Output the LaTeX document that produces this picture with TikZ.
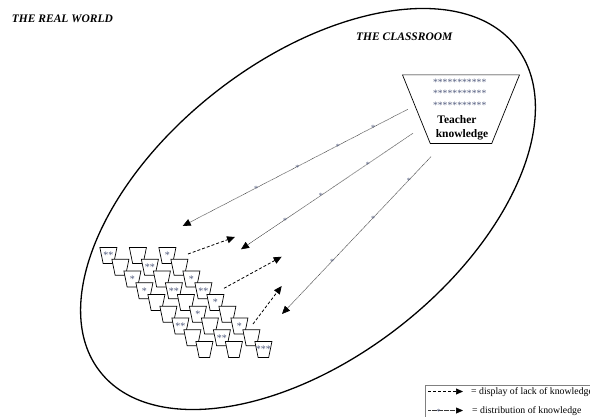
\documentclass[tikz,border=0pt]{standalone}
\usepackage{fontspec}
\setmainfont{Liberation Serif}
\usetikzlibrary{shapes.geometric,arrows.meta}
\definecolor{starcol}{RGB}{80,90,125}
\definecolor{distcol}{RGB}{55,55,55}

\begin{document}
\begin{tikzpicture}[x=1pt,y=-1pt,
  cupbox/.style={rectangle, minimum width=16.7pt, minimum height=15.7pt, inner sep=0pt},
  cupline/.style={draw, fill=white, line width=0.7pt, line join=miter},
  cupstar/.style={font=\fontsize{10}{10}\selectfont, text=starcol, inner sep=0pt},
  linestar/.style={font=\fontsize{8}{8}\selectfont, text=starcol, inner sep=0pt, yshift=-1pt},
  boxstar/.style={font=\fontsize{9.7}{9.7}\selectfont, text=starcol, inner sep=0pt, anchor=base},
  boxtext/.style={font=\fontsize{11.5}{11.5}\selectfont\bfseries, inner sep=0pt, anchor=base},
  title/.style={font=\fontsize{11.5}{11.5}\selectfont\bfseries\itshape, anchor=base west, inner sep=0pt},
  legendtext/.style={font=\fontsize{9.8}{9.8}\selectfont, anchor=base west, inner sep=0pt},
  distarrow/.style={draw=distcol, line width=0.6pt, dash pattern=on 0.6pt off 0.6pt,
    -{Triangle[length=8pt,width=7pt,color=black]}},
  lackarrow/.style={draw=black, line width=0.8pt, dash pattern=on 3pt off 2pt,
    -{Triangle[length=8pt,width=7pt]}}
]
\useasboundingbox (0,0) rectangle (590,416);
\clip (0,0) rectangle (590,416);

% headings
\node[title] (realworld) at (11.7,22.7) {THE REAL WORLD};
\node[title] (classlabel) at (356,40.7) {THE CLASSROOM};

% the classroom
\node[draw, ellipse, line width=1.3pt, minimum width=528pt, minimum height=298pt,
      rotate=38, inner sep=0pt] (classroom) at (308,209) {};

% teacher's store of knowledge: an upturned trapezium
\node[rectangle, minimum width=116.6pt, minimum height=68.3pt, inner sep=0pt]
      (teacher) at (461,109.2) {};
\draw[line width=0.7pt, line join=miter] (teacher.north west) -- (teacher.north east)
  -- ([xshift=-27.8pt]teacher.south east) -- ([xshift=27.8pt]teacher.south west) -- cycle;
\node[boxstar] (tstar1) at (459.7,85.3) {***********};
\node[boxstar] (tstar2) at (459.7,96.9) {***********};
\node[boxstar] (tstar3) at (459.7,108.9) {***********};
\node[boxtext] (tword1) at (457,123.3) {Teacher};
\node[boxtext] (tword2) at (462,137.7) {knowledge};

% the pupils, drawn row by row
\foreach \r in {0,...,8}{
  \foreach \k in {0,1,2}{
    \node[cupbox] (c-\r-\k) at ({108.4+12*\r+29.5*\k},{255.5+11.75*\r}) {};
    \draw[cupline] (c-\r-\k.north west) -- (c-\r-\k.north east)
      -- ([xshift=-3.3pt]c-\r-\k.south east) -- ([xshift=3.3pt]c-\r-\k.south west) -- cycle;
  }
}
\foreach \r/\k/\s in {0/0/**,0/2/*,1/1/**,2/0/*,2/2/*,3/0/*,3/1/**,3/2/**,4/2/*,
                      5/1/*,6/0/**,6/2/*,7/1/**,8/2/***}
  \node[cupstar] (s-\r-\k) at (c-\r-\k) {\s};

% distribution of knowledge
\coordinate (d1s) at (407.7,109.3); \coordinate (d1e) at (182.7,226);
\coordinate (d2s) at (413,133.3);   \coordinate (d2e) at (241,249.3);
\coordinate (d3s) at (431,156.7);   \coordinate (d3e) at (282,314);
\draw[distarrow] (d1s) -- node[linestar,pos=.154]{*} node[linestar,pos=.31]{*}
  node[linestar,pos=.49]{*} node[linestar,pos=.674]{*} (d1e);
\draw[distarrow] (d2s) -- node[linestar,pos=.262]{*} node[linestar,pos=.535]{*}
  node[linestar,pos=.744]{*} (d2e);
\draw[distarrow] (d3s) -- node[linestar,pos=.148]{*} node[linestar,pos=.389]{*}
  node[linestar,pos=.664]{*} (d3e);

% display of lack of knowledge
\coordinate (k1s) at (188,254);   \coordinate (k1e) at (235,237);
\coordinate (k2s) at (224,288.3); \coordinate (k2e) at (281.7,256.7);
\coordinate (k3s) at (253,324);   \coordinate (k3e) at (281.7,286);
\draw[lackarrow] (k1s) -- (k1e);
\draw[lackarrow] (k2s) -- (k2e);
\draw[lackarrow] (k3s) -- (k3e);

% legend
\draw[line width=0.5pt, draw=gray] (425,385) rectangle (600,425);
\coordinate (l1s) at (428,391.5); \coordinate (l1e) at (463,391.5);
\coordinate (l2s) at (428,410.5); \coordinate (l2e) at (463,410.5);
\draw[lackarrow, line width=0.7pt, -{Triangle[length=7pt,width=6pt]}] (l1s) -- (l1e);
\draw[distarrow, -{Triangle[length=7pt,width=6pt,color=black]}] (l2s) -- node[linestar,pos=.3]{*} (l2e);
\node[legendtext] (leg1) at (471,394.8) {= display of lack of knowledge};
\node[legendtext] (leg2) at (472,413.8) {= distribution of knowledge};
\end{tikzpicture}
\end{document}
